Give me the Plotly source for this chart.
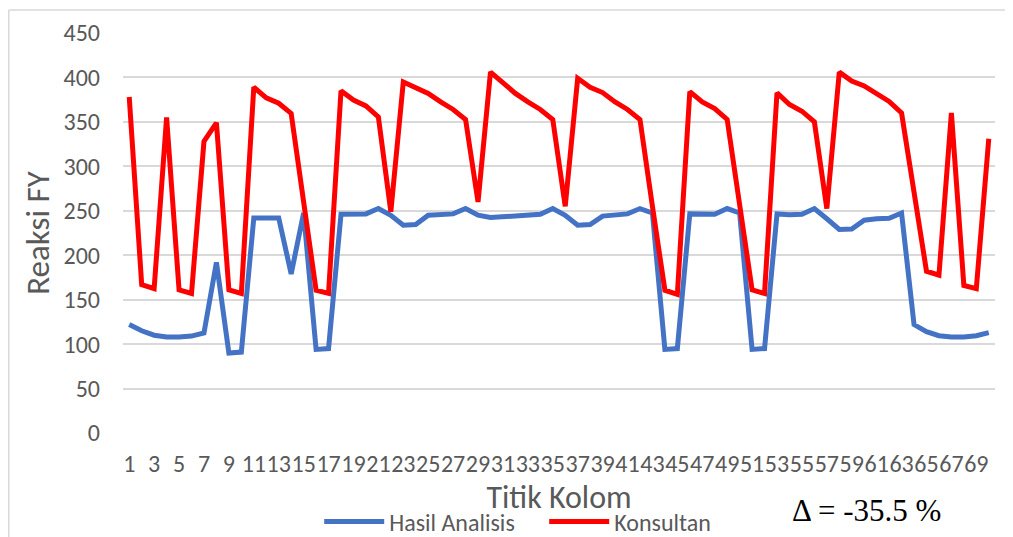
import plotly.graph_objects as go

titik = list(range(1, 71))

hasil_analisis = [
    122, 115, 110, 108, 108, 109, 112.5, 192, 90, 91,
    242, 242, 242, 179, 247.5, 94, 95, 246, 246, 246.5,
    252.5, 245, 233.7, 234.5, 245, 246, 246.5, 252.5, 245, 242.4,
    243, 244, 245, 246, 252.5, 245, 233.7, 234.5, 244, 245.5,
    246.5, 252.5, 247.5, 94, 95, 246.5, 246, 246, 252.5, 247.5,
    94, 95, 246.5, 245.5, 246, 252.5, 241, 229, 229.5, 239.4,
    241, 241.5, 247.5, 122, 114, 109.5, 108, 108, 109.5, 113,
]

konsultan = [
    378, 167, 162.5, 355, 161, 157, 328, 349, 161, 157,
    389, 377, 371, 359.5, 260, 160.6, 157, 385, 374.5, 368,
    355.6, 249, 395, 388, 382, 372.5, 364, 352.7, 260, 406,
    394, 382, 372.5, 364, 352.7, 255, 399, 389, 383, 372.5,
    364, 352.7, 255, 160.6, 156, 384, 372.5, 365, 352.7, 258,
    161, 157, 382.7, 369.6, 362, 350, 252.5, 406, 396, 390.5,
    381, 373, 360, 271, 182, 177.5, 360, 166, 162.5, 331,
]

y_ticks = [0, 50, 100, 150, 200, 250, 300, 350, 400, 450]
x_ticks = list(range(1, 71, 2))

FONT = "Carlito, Calibri, Lato, sans-serif"
GREY = "#595959"

fig = go.Figure()
fig.add_trace(go.Scatter(x=titik, y=hasil_analisis, mode="lines", name="Hasil Analisis",
                         line=dict(color="#4472C4", width=5)))
fig.add_trace(go.Scatter(x=titik, y=konsultan, mode="lines", name="Konsultan",
                         line=dict(color="#FF0000", width=5)))

# page body has an 8px margin, so the figure is 8px smaller than the window
fig.update_layout(
    width=1005, height=529,
    margin=dict(l=115, r=18, t=25, b=104, autoexpand=False),
    paper_bgcolor="white", plot_bgcolor="white",
    font=dict(family=FONT, color=GREY, size=24),
    showlegend=True,
    legend=dict(orientation="h", x=0.225, xanchor="left", y=-0.222, yanchor="middle",
                font=dict(size=24, color=GREY), itemwidth=60,
                entrywidth=150, entrywidthmode="pixels",
                bgcolor="rgba(0,0,0,0)", tracegroupgap=0),
    xaxis=dict(range=[0.5, 70.5], tickmode="array", tickvals=x_ticks,
               ticktext=[str(v) for v in x_ticks], showgrid=False, zeroline=False,
               showline=False, ticks="", tickangle=0, automargin=False,
               ticklabelstandoff=14,
               tickfont=dict(size=24, color=GREY),
               title=dict(text="Titik Kolom", font=dict(size=32, color=GREY), standoff=0)),
    yaxis=dict(range=[0, 450], tickmode="array", tickvals=y_ticks,
               showgrid=True, gridcolor="#D9D9D9", gridwidth=1.5, zeroline=False,
               showline=False, ticks="", ticklabelstandoff=22, automargin=False,
               tickfont=dict(size=24, color=GREY),
               title=dict(text="Reaksi FY", font=dict(size=33, color=GREY), standoff=3)),
    annotations=[dict(text="Δ = -35.5 %", xref="paper", yref="paper", x=0.853, y=-0.193,
                      showarrow=False, xanchor="center", yanchor="middle",
                      font=dict(family="'Liberation Serif', 'Times New Roman', serif",
                                size=31, color="black"))],
    shapes=[
        dict(type="line", xref="paper", yref="paper", x0=-0.131, x1=1.03, y0=1.0575, y1=1.0575,
             line=dict(color="#D9D9D9", width=1.5)),
        dict(type="line", xref="paper", yref="paper", x0=-0.131, x1=-0.131, y0=1.0575, y1=-0.3,
             line=dict(color="#D9D9D9", width=1.5)),
    ],
)

fig.write_html("out.html")
